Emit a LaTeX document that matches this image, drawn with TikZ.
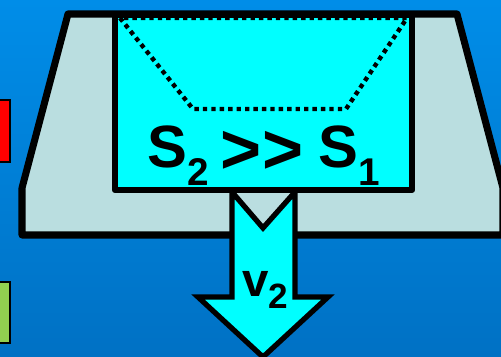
\documentclass[tikz,border=0pt]{standalone}
\usepackage{fontspec}
\setmainfont{Liberation Sans}
\usepackage{tikz}
\definecolor{mybgtop}{RGB}{0,141,232}
\definecolor{mybgbot}{RGB}{0,113,196}
\definecolor{mygrey}{RGB}{186,222,224}
\definecolor{mycyan}{RGB}{0,255,255}
\definecolor{mygreen}{RGB}{146,208,80}
\tikzset{
  tank/.style={draw=black, fill=mygrey, line width=4pt, line join=round},
  cup/.style={draw=black, fill=mycyan, line width=3.6pt, line join=round},
  flow/.style={draw=black, fill=mycyan, line width=3pt, line join=miter},
  rim/.style={draw=black, line width=2.5pt, dash pattern=on 2.5pt off 2.3pt},
  tag/.style={draw=black, line width=0.6pt},
  bigtext/.style={font=\fontsize{34}{40}\selectfont\bfseries,
    inner sep=0pt, anchor=base west},
  smalltext/.style={font=\fontsize{27}{32}\selectfont\bfseries,
    inner sep=0pt, anchor=base west}
}
\newcommand{\gtr}{\raisebox{-3pt}{\fontsize{40}{40}\selectfont >}}

\begin{document}
\begin{tikzpicture}[x=0.02cm, y=-0.02cm]

  % Background
  \useasboundingbox (0,0) rectangle (501,357);
  \clip (0,0) rectangle (501,357);
  \shade[top color=mybgtop, bottom color=mybgbot] (0,0) rectangle (501,357);

  % Side tags
  \draw[tag, fill=red] (-2,100) rectangle (10,162);
  \draw[tag, fill=mygreen] (-2,282) rectangle (10,343);

  % Tank
  \draw[tank] (68,14) -- (457,14) -- (503,188) -- (503,235)
    -- (22,235) -- (22,188) -- cycle;

  % Outflow arrow
  \draw[flow] (232,192) -- (263,228) -- (295,192) -- (295,297)
    -- (328,297) -- (263,357) -- (198,297) -- (232,297) -- cycle;

  % Inner box + dotted cross section
  \draw[cup] (115,15) rectangle (412,190);
  \draw[rim] (120,18) -- (193,109) -- (346,109) -- (407,18) -- cycle;

  % Labels
  \node[bigtext] (ratio) at (147,168)
    {S\raisebox{-9.7pt}{\fontsize{22}{22}\selectfont 2}\hspace{7pt}\gtr\gtr\hspace{9pt}S\raisebox{-9.7pt}{\fontsize{22}{22}\selectfont 1}};
  \node[smalltext] (speed) at (242,297)
    {v\raisebox{-6.3pt}{\fontsize{20}{20}\selectfont 2}};
\end{tikzpicture}
\end{document}
